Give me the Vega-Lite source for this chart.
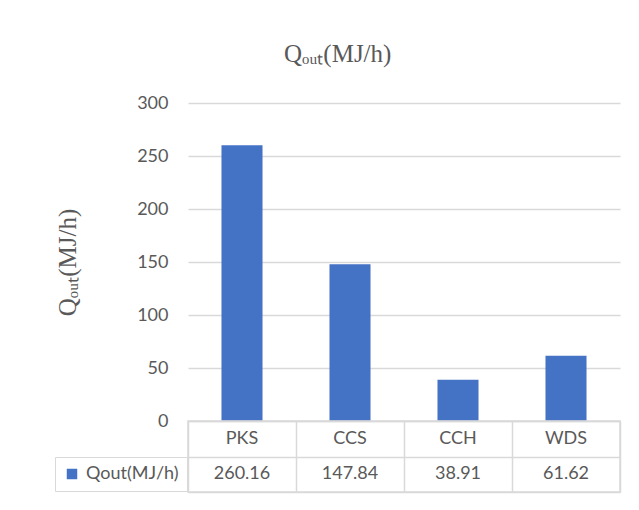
{
  "$schema": "https://vega.github.io/schema/vega-lite/v6.json",
  "padding": {"left": 54, "top": 42, "right": 5, "bottom": 5},
  "background": "white",
  "title": {
    "text": "Qₒᵤₜ(MJ/h)",
    "font": "Liberation Serif",
    "fontSize": 25,
    "fontWeight": "normal",
    "color": "#595959",
    "anchor": "middle",
    "offset": 27
  },
  "data": {
    "values": [
      {"sample": "PKS", "value": 260.16},
      {"sample": "CCS", "value": 147.84},
      {"sample": "CCH", "value": 38.91},
      {"sample": "WDS", "value": 61.62}
    ]
  },
  "spacing": 0,
  "bounds": "flush",
  "resolve": {"scale": {"x": "independent"}},
  "vconcat": [
    {
      "width": 432,
      "height": 318,
      "mark": {"type": "bar"},
      "encoding": {
        "x": {
          "field": "sample",
          "type": "nominal",
          "sort": null,
          "scale": {"paddingInner": 0.62, "paddingOuter": 0.31},
          "axis": null
        },
        "y": {
          "field": "value",
          "type": "quantitative",
          "scale": {"domain": [0, 300], "nice": false},
          "axis": {
            "values": [0, 50, 100, 150, 200, 250, 300],
            "title": "Qₒᵤₜ(MJ/h)",
            "titleFont": "Liberation Serif",
            "titleFontSize": 25,
            "titleFontWeight": "normal",
            "titleColor": "#595959",
            "titlePadding": 56,
            "labelFont": "Lato",
            "labelFontSize": 18,
            "labelColor": "#595959",
            "labelPadding": 20,
            "ticks": false,
            "tickSize": 0,
            "domain": false,
            "grid": true,
            "gridColor": "#d9d9d9",
            "gridWidth": 1.5
          }
        },
        "color": {
          "datum": "Qout(MJ/h)",
          "type": "nominal",
          "scale": {"range": ["#4472C4"]},
          "legend": {
            "orient": "none",
            "legendX": -133,
            "legendY": 354,
            "title": null,
            "symbolType": "square",
            "symbolSize": 110,
            "symbolStrokeWidth": 0,
            "labelFont": "Lato",
            "labelFontSize": 18,
            "labelColor": "#595959",
            "labelOffset": 5,
            "strokeColor": "#d9d9d9",
            "fillColor": "white",
            "padding": 8
          }
        }
      }
    },
    {
      "width": 432,
      "height": 71,
      "view": {"stroke": "#d9d9d9", "strokeWidth": 1.5},
      "encoding": {
        "x": {
          "field": "sample",
          "type": "nominal",
          "sort": null,
          "scale": {"type": "band", "paddingInner": 0, "paddingOuter": 0},
          "axis": {
            "title": null,
            "labels": false,
            "ticks": false,
            "domain": false,
            "grid": true,
            "gridColor": "#d9d9d9",
            "gridWidth": 1.5,
            "tickBand": "extent"
          }
        }
      },
      "layer": [
        {
          "mark": {"type": "text", "font": "Lato", "fontSize": 18, "color": "#595959"},
          "encoding": {
            "y": {
              "datum": "cat",
              "type": "nominal",
              "scale": {"type": "band", "domain": ["cat", "val"], "paddingInner": 0, "paddingOuter": 0},
              "axis": {
                "title": null,
                "labels": false,
                "ticks": false,
                "domain": false,
                "grid": true,
                "gridColor": "#d9d9d9",
                "gridWidth": 1.5,
                "tickBand": "extent"
              }
            },
            "text": {"field": "sample", "type": "nominal"}
          }
        },
        {
          "mark": {"type": "text", "font": "Lato", "fontSize": 18, "color": "#595959"},
          "encoding": {
            "y": {"datum": "val", "type": "nominal"},
            "text": {"field": "value", "type": "quantitative", "format": ".2f"}
          }
        }
      ]
    }
  ],
  "config": {
    "view": {"stroke": null},
    "font": "Lato"
  }
}
